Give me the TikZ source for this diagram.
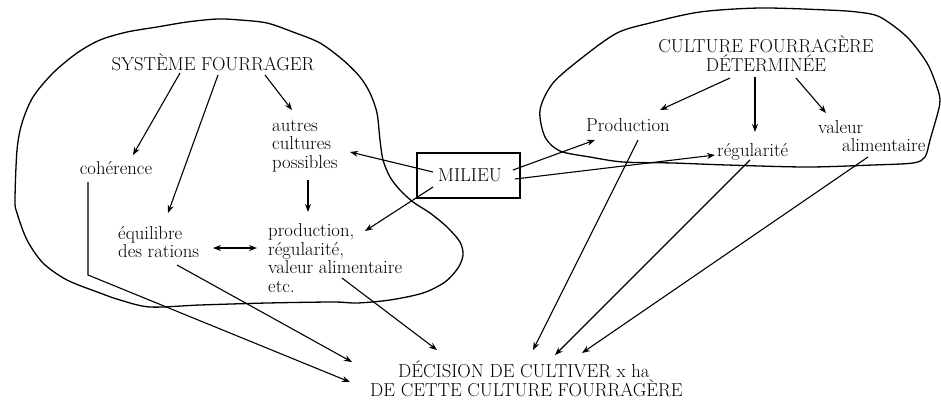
\documentclass[tikz,border=0pt]{standalone}
\usetikzlibrary{arrows.meta,calc}
\begin{document}
\begin{tikzpicture}[x=1pt,y=-1pt,
  every node/.style={inner sep=0pt,font=\fontsize{18.7}{18.5}\selectfont},
  txt/.style={align=left,anchor=west},
  arr/.style={line width=1.1pt,-{Stealth[length=8pt,width=6pt]}},
  ln/.style={line width=1.1pt},
  blob/.style={line width=1.3pt,line join=round},
  boxed/.style={draw,line width=1.2pt,minimum width=103pt,minimum height=45pt}]
\useasboundingbox (0,0) rectangle (941,400);
% outlines
\draw[blob] plot[smooth cycle,tension=0.5] coordinates {
 (15,200) (17,150) (22,123) (33,97) (53,73) (77,53) (100,40) (127,32) (157,27)
 (187,22) (217,19) (240,20) (267,23) (293,32) (320,43) (343,60) (360,77) (370,93)
 (377,113) (380,140) (383,160) (390,177) (400,190) (413,202) (430,213) (447,227)
 (460,242) (463,255) (458,268) (445,282) (423,293) (390,300) (357,303) (333,302)
 (267,303) (200,305) (150,307) (120,300) (100,293) (67,280) (43,263) (27,240) (17,213)};
\draw[blob] plot[smooth cycle,tension=0.5] coordinates {
 (540,110) (553,83) (583,57) (617,33) (650,23) (700,12) (760,8) (827,10) (857,12)
 (880,17) (907,37) (927,63) (937,87) (940,100) (938,112) (930,140) (925,157)
 (913,163) (873,165) (807,167) (727,165) (673,163) (623,162) (590,157) (560,151)
 (545,137)};
% nodes
\node (sf) at (213,62) {SYSTÈME FOURRAGER};
\node (coh) at (116,168) {cohérence};
\node[txt] (aut) at (272,146) {autres\\cultures\\possibles};
\node[txt] (equ) at (118,242) {équilibre\\des rations};
\node[txt] (prod) at (268,258) {production,\\régularité,\\valeur alimentaire\\etc.};
\node[boxed] (mil) at (468.5,175.5) {\hspace*{3pt}MILIEU};
\node[align=center] (cfd) at (766,54) {CULTURE FOURRAGÈRE\\DÉTERMINÉE};
\node (P) at (628,125) {Production};
\node[txt] (reg) at (717,152) {régularité};
\node[txt] (val) at (818,136) {valeur\\\hspace*{24pt}alimentaire};
\node[txt] (dec) at (370,379) {\hspace*{28pt}DÉCISION DE CULTIVER x ha\\DE CETTE CULTURE FOURRAGÈRE};
% connectors
\draw[arr] ($(sf)+(-33,11)$) -- ($(coh)+(17,-13)$);
\draw[arr] ($(sf)+(5,13)$) -- ($(equ.west)+(50,-29)$);
\draw[arr] ($(sf)+(52,13)$) -- ($(aut.west)+(20,-36)$);
\draw[arr] ($(mil)+(-35.5,-3.5)$) -- ($(aut.west)+(78,6)$);
\draw[arr] ($(mil)+(-35.5,11.5)$) -- ($(prod.west)+(97,-27)$);
\draw[arr] ($(aut.west)+(36,34)$) -- ($(prod.west)+(40,-46)$);
\draw[line width=1.1pt,{Stealth[length=8pt,width=6pt]}-{Stealth[length=8pt,width=6pt]}] ($(equ.west)+(95,6)$) -- ($(prod.west)+(-11,-10)$);
\draw[arr] ($(coh)+(-28,14)$) -- ($(coh)+(-28,107)$) -- ($(dec.west)+(-20,3)$);
\draw[arr] ($(equ.west)+(59,23)$) -- ($(dec.west)+(-18,-17)$);
\draw[arr] ($(prod.west)+(74,20)$) -- ($(dec.west)+(67,-29)$);
\draw[arr] ($(mil)+(44.5,-5.5)$) -- ($(P)+(-33,15)$);
\draw[arr] ($(mil)+(46.5,3.5)$) -- ($(reg.west)+(-2,3)$);
\draw[arr] ($(cfd)+(-36,24)$) -- ($(P)+(32,-15)$);
\draw[arr] ($(cfd)+(-11,23)$) -- ($(reg.west)+(38,-20)$);
\draw[arr] ($(cfd)+(30,24)$) -- ($(val.west)+(8,-23)$);
\draw[arr] ($(P)+(10,15)$) -- ($(dec.west)+(163,-29)$);
\draw[arr] ($(reg.west)+(33,8)$) -- ($(dec.west)+(185,-24)$);
\draw[arr] ($(val.west)+(50,21)$) -- ($(dec.west)+(212,-26)$);
\end{tikzpicture}
\end{document}
